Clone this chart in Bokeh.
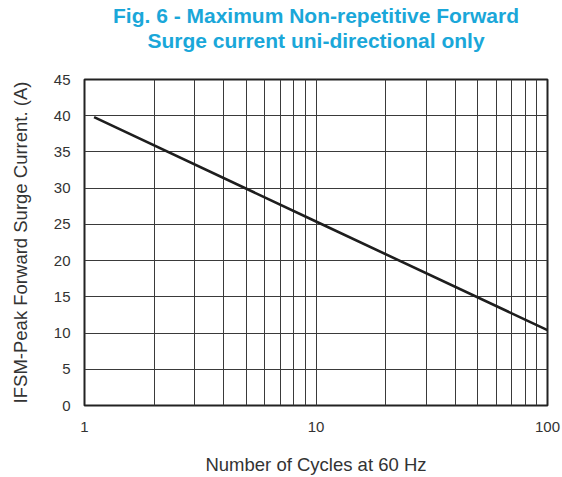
from bokeh.plotting import figure
from bokeh.models import Range1d, LogTicker, FixedTicker, PrintfTickFormatter, Title
from bokeh.embed import file_html
from bokeh.resources import INLINE

# Surge rating curve (cycles at 60 Hz vs. peak forward surge current, A)
cycles = [1.1, 10, 100]
current = [39.8, 25.4, 10.4]

y_ticks = [0, 5, 10, 15, 20, 25, 30, 35, 40, 45]

title_lines = ["Fig. 6 - Maximum Non-repetitive Forward",
               "Surge current uni-directional only"]
x_label = "Number of Cycles at 60 Hz"
y_label = "IFSM-Peak Forward Surge Current. (A)"

W, H = 562, 477
FL, FR, FT, FB = 84, 547, 79, 409   # plot frame edges (canvas px)
FONT = "Liberation Sans"
TEXT = "#333333"
GRID = "#3a3a3a"
TITLE_COLOR = "#1aa7d9"

p = figure(width=W, height=H, x_axis_type="log",
           x_range=Range1d(1, 100), y_range=Range1d(0, 45),
           output_backend="svg", toolbar_location=None,
           min_border_left=FL, min_border_right=W - FR,
           min_border_top=FT, min_border_bottom=H - FB)

p.background_fill_color = "white"
p.border_fill_color = "white"
p.outline_line_color = "#222222"
p.outline_line_width = 2

# axes
p.xaxis.ticker = LogTicker(num_minor_ticks=10, desired_num_ticks=3)
p.xaxis.formatter = PrintfTickFormatter(format="%d")
p.yaxis.ticker = FixedTicker(ticks=y_ticks)
for ax in (p.xaxis[0], p.yaxis[0]):
    ax.axis_line_color = None
    ax.major_tick_line_color = None
    ax.minor_tick_line_color = None
    ax.major_label_text_font = FONT
    ax.major_label_text_font_size = "15px"
    ax.major_label_text_color = TEXT
    ax.axis_label_text_font = FONT
    ax.axis_label_text_font_size = "18.5px"
    ax.axis_label_text_font_style = "normal"
    ax.axis_label_text_color = TEXT
p.xaxis.major_label_standoff = 10
p.yaxis.major_label_standoff = 8

p.xaxis.axis_label = x_label
p.xaxis.axis_label_standoff = 19
p.yaxis.axis_label = y_label
p.yaxis.axis_label_standoff = 20

# grid
p.xgrid.grid_line_color = GRID
p.xgrid.grid_line_width = 1
p.xgrid.minor_grid_line_color = GRID
p.xgrid.minor_grid_line_width = 1
p.ygrid.grid_line_color = GRID
p.ygrid.grid_line_width = 1

# curve
p.line(cycles, current, line_color="#1e1e1e", line_width=2.6)

# two centred title lines; panels stack outward, so the lower line goes in
# first, with a trailing blank line to leave a gap above the frame
title_style = dict(align="center", text_font=FONT, text_font_size="21px",
                   text_font_style="bold", text_color=TITLE_COLOR, standoff=0)
p.add_layout(Title(text=title_lines[1] + "\n ", text_line_height=1.2,
                   **title_style), "above")
p.add_layout(Title(text=title_lines[0], text_line_height=1.0,
                   **title_style), "above")

open("out.html", "w").write(file_html(p, INLINE))
